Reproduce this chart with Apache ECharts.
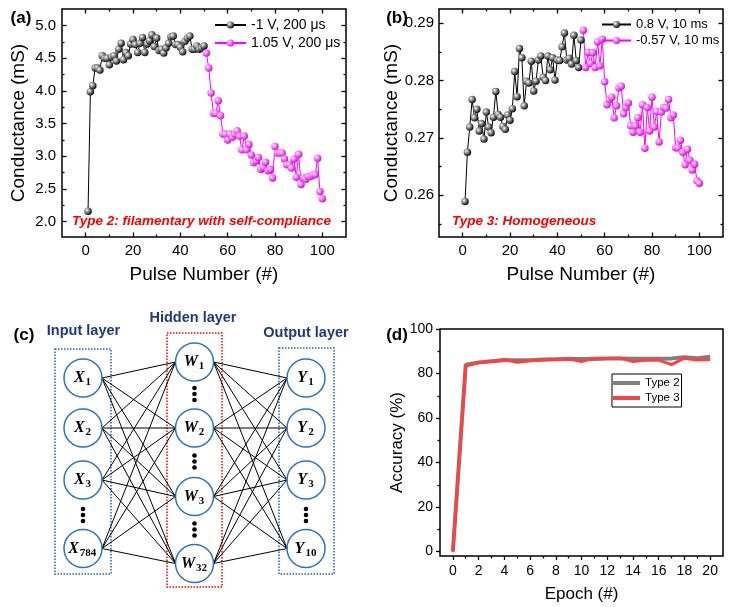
<!DOCTYPE html>
<html><head><meta charset="utf-8">
<script src="https://cdn.jsdelivr.net/npm/echarts@6/dist/echarts.min.js"></script>
<style>html,body{margin:0;padding:0;background:#fff}#c{width:736px;height:607px}</style>
</head><body><div id="c"></div>
<script>
// ---------- Panel (a): Type 2 conductance vs pulse ----------
const aSetName = '-1 V, 200 \u03bcs';
const aResetName = '1.05 V, 200 \u03bcs';
const aSet = [2.16, 3.99, 4.08, 4.35, 4.35, 4.32, 4.54, 4.50, 4.50, 4.40,
  4.52, 4.54, 4.46, 4.64, 4.73, 4.48, 4.59, 4.54, 4.72, 4.79,
  4.71, 4.59, 4.73, 4.82, 4.59, 4.72, 4.77, 4.86, 4.68, 4.81,
  4.62, 4.64, 4.58, 4.66, 4.73, 4.83, 4.84, 4.71, 4.71, 4.67,
  4.60, 4.76, 4.81, 4.84, 4.64, 4.64, 4.69, 4.64, 4.66, 4.69];
const aReset = [4.58, 4.35, 3.97, 3.66, 3.66, 3.85, 3.62, 3.34, 3.34, 3.25,
  3.34, 3.29, 3.34, 3.39, 3.31, 3.10, 3.31, 3.10, 3.18, 3.02,
  2.90, 2.93, 2.98, 2.80, 2.83, 2.91, 2.78, 2.80, 2.67, 3.15,
  3.05, 3.05, 3.05, 2.96, 2.87, 2.87, 2.82, 2.96, 2.68, 3.03,
  2.57, 2.67, 2.65, 2.69, 2.69, 2.71, 2.72, 2.97, 2.46, 2.35];
// ---------- Panel (b): Type 3 conductance vs pulse ----------
const bSetName = '0.8 V, 10 ms';
const bResetName = '-0.57 V, 10 ms';
const bSet = [0.2589, 0.2675, 0.2719, 0.2767, 0.2735, 0.2750, 0.2712, 0.2725, 0.2698, 0.2745,
  0.2719, 0.2709, 0.2736, 0.2781, 0.2741, 0.2736, 0.2720, 0.2715, 0.2740, 0.2731,
  0.2751, 0.2816, 0.2772, 0.2856, 0.2840, 0.2756, 0.2799, 0.2796, 0.2834, 0.2782,
  0.2799, 0.2836, 0.2843, 0.2806, 0.2800, 0.2843, 0.2819, 0.2840, 0.2801, 0.2836,
  0.2835, 0.2859, 0.2883, 0.2836, 0.2839, 0.2829, 0.2879, 0.2835, 0.2823, 0.2871];
const bReset = [0.2888, 0.2823, 0.2849, 0.2830, 0.2849, 0.2823, 0.2868, 0.2826, 0.2872, 0.2798,
  0.2758, 0.2767, 0.2771, 0.2735, 0.2756, 0.2787, 0.2790, 0.2742, 0.2753, 0.2761,
  0.2721, 0.2710, 0.2721, 0.2735, 0.2710, 0.2758, 0.2682, 0.2753, 0.2712, 0.2771,
  0.2719, 0.2746, 0.2693, 0.2745, 0.2753, 0.2752, 0.2767, 0.2735, 0.2740, 0.2683,
  0.2683, 0.2696, 0.2675, 0.2653, 0.2680, 0.2661, 0.2644, 0.2654, 0.2625, 0.2621];
const pulseSet = aSet.map((_, i) => i + 1);        // pulses 1..50
const pulseReset = aReset.map((_, i) => i + 51);   // pulses 51..100
// ---------- Panel (d): accuracy vs epoch ----------
const epochs = [0, 1, 2, 3, 4, 5, 6, 7, 8, 9, 10, 11, 12, 13, 14, 15, 16, 17, 18, 19, 20];
const accType2 = [0, 84, 85, 85.5, 86, 86, 86, 86.3, 86.4, 86.5, 86.5, 86.5, 86.7, 86.7, 86.6, 86.6, 86.6, 86.8, 87.3, 86.9, 87.5];
const accType3 = [0, 83.3, 84.8, 85.4, 86.3, 85.1, 85.7, 86.1, 86.3, 86.6, 85.4, 86.9, 86.7, 86.9, 85.4, 86, 86, 84, 86.9, 86.1, 86.3];
// ---------- tick labels ----------
const pulseMajor = [0, 20, 40, 60, 80, 100];
const pulseMinor = [10, 30, 50, 70, 90];
const aYMajor = [2.0, 2.5, 3.0, 3.5, 4.0, 4.5, 5.0];
const aYMinor = [2.25, 2.75, 3.25, 3.75, 4.25, 4.75];
const bYMajor = [0.26, 0.27, 0.28, 0.29];
const bYMinor = [0.255, 0.265, 0.275, 0.285];
const dXMajor = [0, 2, 4, 6, 8, 10, 12, 14, 16, 18, 20];
const dXMinor = [1, 3, 5, 7, 9, 11, 13, 15, 17, 19];
const dYMajor = [0, 20, 40, 60, 80, 100];
const dYMinor = [10, 30, 50, 70, 90];

const FONT = "'Liberation Sans', Arial, Helvetica, sans-serif";
const chart = echarts.init(document.getElementById('c'), null, {renderer: 'canvas'});

const xAxes = [], yAxes = [];
function tickAxis(list, grid, pos, min, max, vals, len, inside, extra) {
  const ax = {type: 'value', gridIndex: grid, position: pos, min: min, max: max,
    axisLine: {show: false, onZero: false}, splitLine: {show: false},
    axisTick: {show: true, inside: inside, length: len, customValues: vals, lineStyle: {color: '#000', width: 1.3}},
    axisLabel: {show: false}, silent: true};
  Object.assign(ax, extra || {});
  list.push(ax);
  return list.length - 1;
}
function lab(vals, fmt, size, margin) {
  return {show: true, customValues: vals, formatter: fmt, fontSize: size, fontFamily: FONT, color: '#000', margin: margin};
}
function nm(text, gap, size) {
  return {name: text, nameLocation: 'middle', nameGap: gap, nameTextStyle: {fontSize: size, fontFamily: FONT, color: '#000'}};
}
// panel a axes
const aX = tickAxis(xAxes, 0, 'bottom', -10, 110, pulseMajor, 4.5, true, Object.assign({axisLabel: lab(pulseMajor, v => String(v), 15, 6)}, nm('Pulse Number (#)', 28, 19)));
tickAxis(xAxes, 0, 'bottom', -10, 110, pulseMinor, 2.5, true);
tickAxis(xAxes, 0, 'top', -10, 110, pulseMajor, 4.5, true);
tickAxis(xAxes, 0, 'top', -10, 110, pulseMinor, 2.5, true);
const aY = tickAxis(yAxes, 0, 'left', 1.765, 5.255, aYMajor, 4.5, true, Object.assign({axisLabel: lab(aYMajor, v => v.toFixed(1), 15, 6)}, nm('Conductance (mS)', 34, 19)));
tickAxis(yAxes, 0, 'left', 1.765, 5.255, aYMinor, 2.5, true);
tickAxis(yAxes, 0, 'right', 1.765, 5.255, aYMajor, 4.5, true);
tickAxis(yAxes, 0, 'right', 1.765, 5.255, aYMinor, 2.5, true);
// panel b axes
const bX = tickAxis(xAxes, 1, 'bottom', -10, 110, pulseMajor, 4.5, true, Object.assign({axisLabel: lab(pulseMajor, v => String(v), 15, 6)}, nm('Pulse Number (#)', 28, 19)));
tickAxis(xAxes, 1, 'bottom', -10, 110, pulseMinor, 2.5, true);
tickAxis(xAxes, 1, 'top', -10, 110, pulseMajor, 4.5, true);
tickAxis(xAxes, 1, 'top', -10, 110, pulseMinor, 2.5, true);
const bY = tickAxis(yAxes, 1, 'left', 0.2527, 0.2925, bYMajor, 4.5, true, Object.assign({axisLabel: lab(bYMajor, v => v.toFixed(2), 15, 5)}, nm('Conductance (mS)', 27, 19)));
tickAxis(yAxes, 1, 'left', 0.2527, 0.2925, bYMinor, 2.5, true);
tickAxis(yAxes, 1, 'right', 0.2527, 0.2925, bYMajor, 4.5, true);
tickAxis(yAxes, 1, 'right', 0.2527, 0.2925, bYMinor, 2.5, true);
// panel d axes
const dX = tickAxis(xAxes, 2, 'bottom', -1, 21, dXMajor, 4, false, Object.assign({axisLabel: lab(dXMajor, v => String(v), 14, 8)}, nm('Epoch (#)', 30, 17)));
tickAxis(xAxes, 2, 'bottom', -1, 21, dXMinor, 2.5, false);
const dY = tickAxis(yAxes, 2, 'left', -2, 100, dYMajor, 4, false, Object.assign({axisLabel: lab(dYMajor, v => String(v), 14, 7)}, nm('Accuracy (%)', 34, 17)));
tickAxis(yAxes, 2, 'left', -2, 100, dYMinor, 2.5, false);

function ball(c0, c1) {
  return {type: 'radial', x: 0.35, y: 0.35, r: 0.7, colorStops: [
    {offset: 0, color: '#ffffff'}, {offset: 0.35, color: c0}, {offset: 1, color: c1}]};
}
const blackBall = ball('#9a9a9a', '#000000');
const pinkBall = ball('#ff8cff', '#d400d4');
function scat(name, xs, ys, xi, yi, fill, lineColor) {
  return {type: 'line', name: name, xAxisIndex: xi, yAxisIndex: yi,
    data: ys.map((v, i) => [xs[i], v]), symbol: 'circle', symbolSize: 7.5,
    itemStyle: {color: fill, borderWidth: 0}, lineStyle: {color: lineColor, width: 1},
    emphasis: {disabled: true}, animation: false, z: 3};
}
const series = [
  scat(aSetName, pulseSet, aSet, aX, aY, blackBall, '#000'),
  scat(aResetName, pulseReset, aReset, aX, aY, pinkBall, '#ff00ff'),
  scat(bSetName, pulseSet, bSet, bX, bY, blackBall, '#000'),
  scat(bResetName, pulseReset, bReset, bX, bY, pinkBall, '#ff00ff'),
  {type: 'line', name: 'Type 2', xAxisIndex: dX, yAxisIndex: dY, data: accType2.map((v, i) => [epochs[i], v]),
    symbol: 'none', itemStyle: {color: '#7f7f7f'}, lineStyle: {color: '#7f7f7f', width: 4}, animation: false, emphasis: {disabled: true}},
  {type: 'line', name: 'Type 3', xAxisIndex: dX, yAxisIndex: dY, data: accType3.map((v, i) => [epochs[i], v]),
    symbol: 'none', itemStyle: {color: '#ff4040'}, lineStyle: {color: '#ff4040', width: 3}, animation: false, emphasis: {disabled: true}}
];

const legend = [
  {data: [aSetName, aResetName], orient: 'vertical', left: 214, top: 18, itemWidth: 31, itemHeight: 9, itemGap: 4, padding: 0, selectedMode: false,
    textStyle: {fontSize: 14, fontFamily: FONT, color: '#000'}},
  {data: [bSetName, bResetName], orient: 'vertical', left: 601, top: 18, itemWidth: 29, itemHeight: 9, itemGap: 3, padding: 0, selectedMode: false,
    textStyle: {fontSize: 13, fontFamily: FONT, color: '#000'}},
  {data: ['Type 2', 'Type 3'], orient: 'vertical', left: 612, top: 374, icon: 'rect', itemWidth: 27, itemHeight: 4, itemGap: 3,
    padding: [3, 2, 3, 1], borderColor: '#000', borderWidth: 1, backgroundColor: '#fff', selectedMode: false,
    textStyle: {fontSize: 11.5, fontFamily: FONT, color: '#000'}}
];

// ---------- panel (c) network diagram (graphic) ----------
const g = [];
function txt(x, y, text, size, weight, style, fill, align, family) {
  g.push({type: 'text', x: x, y: y, silent: true, style: {text: text, fontSize: size, fontWeight: weight, fontStyle: style || 'normal',
    fontFamily: family || FONT, fill: fill, align: align || 'left', verticalAlign: 'middle', textAlign: align || 'left', textVerticalAlign: 'middle'}});
}
const boxBlue = '#2264AE';
g.push({type: 'rect', silent: true, shape: {x: 55, y: 349, width: 56, height: 225}, style: {fill: 'none', stroke: boxBlue, lineWidth: 1.5, lineDash: [1.5, 1.5]}});
g.push({type: 'rect', silent: true, shape: {x: 167, y: 333, width: 55, height: 254}, style: {fill: 'none', stroke: '#ff0000', lineWidth: 1.5, lineDash: [1.5, 1.5]}});
g.push({type: 'rect', silent: true, shape: {x: 279, y: 348, width: 55, height: 226}, style: {fill: 'none', stroke: boxBlue, lineWidth: 1.5, lineDash: [1.5, 1.5]}});
const R = 19;
const colX = 83, colW = 194.5, colY = 306;
const xCy = [378, 428, 480, 548.5], wCy = [362, 428, 496.5, 563.5], yCy = [378, 428, 480, 548.5];
xCy.forEach(y1 => wCy.forEach(y2 => g.push({type: 'line', silent: true, shape: {x1: colX + R, y1: y1, x2: colW - R, y2: y2}, style: {stroke: '#000', lineWidth: 1}})));
wCy.forEach(y1 => yCy.forEach(y2 => g.push({type: 'line', silent: true, shape: {x1: colW + R, y1: y1, x2: colY - R, y2: y2}, style: {stroke: '#000', lineWidth: 1}})));
function node(cx, cy, letter, sub, lw) {
  g.push({type: 'circle', silent: true, shape: {cx: cx, cy: cy, r: R}, style: {fill: '#fff', stroke: '#2E75B6', lineWidth: 1.5}});
  const sw = 5.8 * sub.length;
  const left = cx - (lw + sw) / 2 - 0.5;
  txt(left, cy, letter, 16, 'bold', 'italic', '#000', 'left', "'Liberation Serif', 'DejaVu Serif', serif");
  txt(left + lw + 0.5, cy + 4.5, sub, 11, 'bold', 'normal', '#000', 'left', "'Liberation Serif', 'DejaVu Serif', serif");
}
['1', '2', '3', '784'].forEach((s, i) => node(colX, xCy[i], 'X', s, 11));
['1', '2', '3', '32'].forEach((s, i) => node(colW, wCy[i], 'W', s, 14.5));
['1', '2', '3', '10'].forEach((s, i) => node(colY, yCy[i], 'Y', s, 10.5));
function dots(cx, cy) {
  [-6, 0, 6].forEach(d => g.push({type: 'circle', silent: true, shape: {cx: cx, cy: cy + d, r: 2.3}, style: {fill: '#000'}}));
}
dots(colX, 515); dots(colY, 515);
dots(colW, 394); dots(colW, 461.5); dots(colW, 529.5);
const navy = '#1F3A7A';
txt(83.5, 331, 'Input layer', 14.5, 'bold', 'normal', navy, 'center');
txt(193, 318, 'Hidden layer', 14.5, 'bold', 'normal', navy, 'center');
txt(306, 333, 'Output layer', 14.5, 'bold', 'normal', navy, 'center');
// panel letters
txt(21, 18, '(a)', 17, 'bold', 'normal', '#000', 'center');
txt(397, 18, '(b)', 17, 'bold', 'normal', '#000', 'center');
txt(24, 335, '(c)', 17, 'bold', 'normal', '#000', 'center');
txt(397, 335, '(d)', 17, 'bold', 'normal', '#000', 'center');
// annotations
txt(72, 221, 'Type 2: filamentary with self-compliance', 13.5, 'bold', 'italic', '#ff0000', 'left');
txt(452, 221, 'Type 3: Homogeneous', 13.5, 'bold', 'italic', '#ff0000', 'left');

const gridBase = {show: true, borderColor: '#000', borderWidth: 1.5, backgroundColor: 'transparent', containLabel: false, outerBoundsMode: 'none'};
chart.setOption({
  animation: false,
  backgroundColor: '#fff',
  grid: [
    Object.assign({left: 62, top: 9, width: 284, height: 228}, gridBase),
    Object.assign({left: 439, top: 9, width: 284, height: 228}, gridBase),
    Object.assign({left: 440, top: 329, width: 283, height: 227}, gridBase)
  ],
  xAxis: xAxes,
  yAxis: yAxes,
  legend: legend,
  series: series,
  graphic: {elements: g}
});
</script>
</body></html>
